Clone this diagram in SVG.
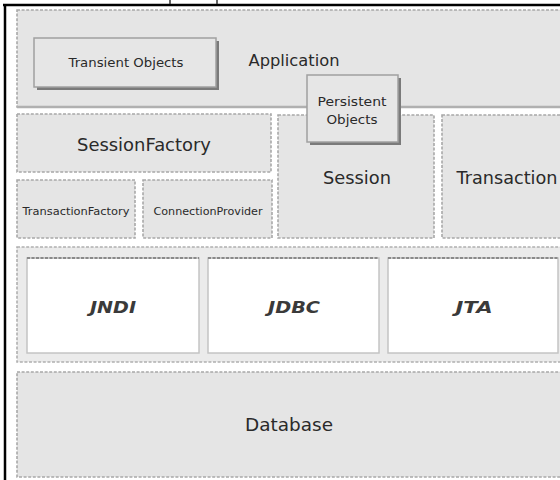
<svg xmlns="http://www.w3.org/2000/svg" width="560" height="480" viewBox="0 0 560 480">
<style>
.box{fill:#e5e5e5;stroke:#a8a8a8;stroke-width:1.6;stroke-dasharray:3 1.6}
.solid{fill:#e6e6e6;stroke:#a0a0a0;stroke-width:1.5}
.shadow{fill:#7a7a7a}
.white{fill:#ffffff;stroke:#c4c4c4;stroke-width:1.5}
.wtop{stroke:#8a8a8a;stroke-width:2;stroke-dasharray:3 1.5;fill:none}
.band{fill:#ebebeb;stroke:#b0b0b0;stroke-width:1.6;stroke-dasharray:3 1.6}
text{font-family:"DejaVu Sans","Liberation Sans",sans-serif;fill:#2a2a2a;text-anchor:middle}
.lg{font-size:18px}
.md{font-size:16px}
.sm{font-size:13px}
.xs{font-size:11px}
.it{font-size:16px;font-weight:bold;font-style:italic;fill:#3a3a3a}
</style>
<rect x="0" y="0" width="560" height="480" fill="#ffffff"/>
<g id="frame">
<line x1="3" y1="5" x2="560" y2="5" stroke="#000" stroke-width="2.5"/>
<line x1="5" y1="4" x2="5" y2="480" stroke="#000" stroke-width="2.5"/>
<line x1="170" y1="0" x2="170" y2="4" stroke="#333" stroke-width="1.5"/>
<line x1="217" y1="0" x2="217" y2="4" stroke="#333" stroke-width="1.5"/>
</g>
<g id="application">
<rect class="box" x="17" y="10" width="548" height="97"/>
<line x1="17" y1="107" x2="560" y2="107" stroke="#b0b0b0" stroke-width="2.5"/>
<text class="md" x="294" y="66" textLength="91" lengthAdjust="spacingAndGlyphs">Application</text>
</g>
<g id="transient-objects">
<rect class="shadow" x="37" y="41" width="182" height="49"/>
<rect class="solid" x="34" y="38" width="182" height="49"/>
<text class="sm" x="126" y="67" textLength="115" lengthAdjust="spacingAndGlyphs">Transient Objects</text>
</g>
<g id="session-factory">
<rect class="box" x="17" y="114" width="254" height="58"/>
<text class="lg" x="144" y="151" textLength="134" lengthAdjust="spacingAndGlyphs">SessionFactory</text>
</g>
<g id="transaction-factory">
<rect class="box" x="17" y="180" width="118" height="58"/>
<text class="xs" x="76" y="215" textLength="107" lengthAdjust="spacingAndGlyphs">TransactionFactory</text>
</g>
<g id="connection-provider">
<rect class="box" x="143" y="180" width="129" height="58"/>
<text class="xs" x="208" y="215" textLength="109" lengthAdjust="spacingAndGlyphs">ConnectionProvider</text>
</g>
<g id="session">
<rect class="box" x="278" y="115" width="156" height="123"/>
<text class="lg" x="357" y="184" textLength="68" lengthAdjust="spacingAndGlyphs">Session</text>
</g>
<g id="transaction">
<rect class="box" x="442" y="115" width="122" height="123"/>
<text class="lg" x="507" y="184" textLength="101" lengthAdjust="spacingAndGlyphs">Transaction</text>
</g>
<g id="persistent-objects">
<rect class="shadow" x="310" y="78" width="91" height="67"/>
<rect class="solid" x="307" y="75" width="91" height="67"/>
<text class="sm" x="352" y="106" textLength="69" lengthAdjust="spacingAndGlyphs">Persistent</text>
<text class="sm" x="352" y="124" textLength="51" lengthAdjust="spacingAndGlyphs">Objects</text>
</g>
<g id="services-row">
<rect class="band" x="17" y="247" width="548" height="115"/>
</g>
<g id="jndi">
<rect class="white" x="27" y="258" width="172" height="95"/>
<line class="wtop" x1="27" y1="258" x2="199" y2="258"/>
<text class="it" x="113" y="313" textLength="46" lengthAdjust="spacingAndGlyphs">JNDI</text>
</g>
<g id="jdbc">
<rect class="white" x="208" y="258" width="171" height="95"/>
<line class="wtop" x1="208" y1="258" x2="379" y2="258"/>
<text class="it" x="294" y="313" textLength="52" lengthAdjust="spacingAndGlyphs">JDBC</text>
</g>
<g id="jta">
<rect class="white" x="388" y="258" width="170" height="95"/>
<line class="wtop" x1="388" y1="258" x2="558" y2="258"/>
<text class="it" x="474" y="313" textLength="37" lengthAdjust="spacingAndGlyphs">JTA</text>
</g>
<g id="database">
<rect class="box" x="17" y="372" width="548" height="105"/>
<text class="lg" x="289" y="431" textLength="88" lengthAdjust="spacingAndGlyphs">Database</text>
</g>
<g id="connectors"/>
</svg>
